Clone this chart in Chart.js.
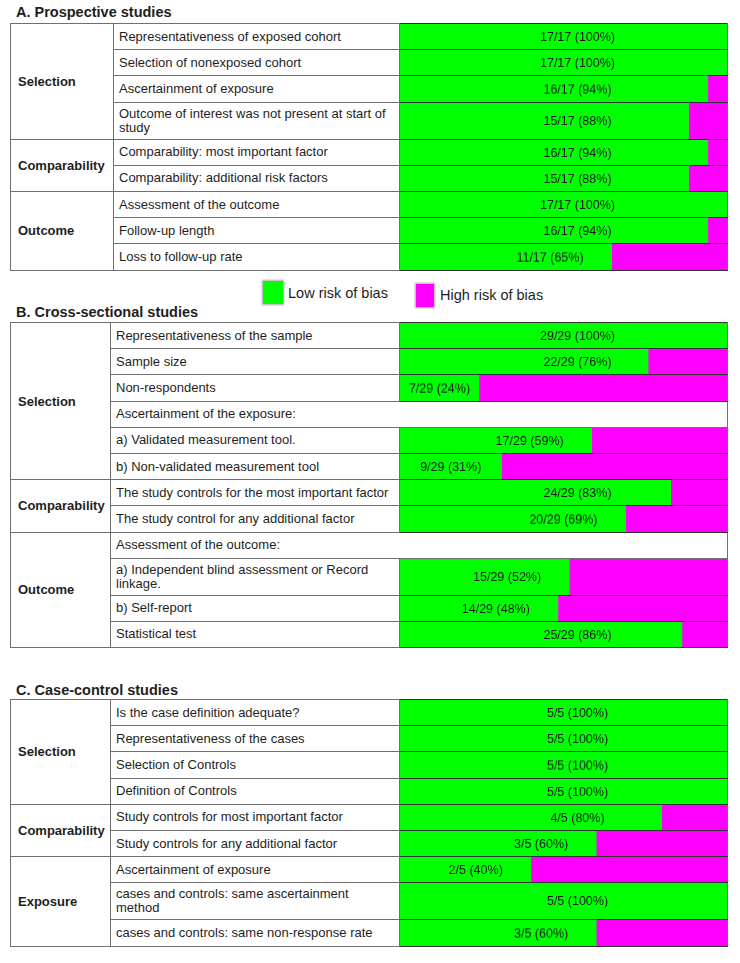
<!DOCTYPE html>
<html>
<head>
<meta charset="utf-8">
<script src="https://cdn.jsdelivr.net/npm/chart.js@4.4.0/dist/chart.umd.min.js"></script>
<style>
body { margin: 0; background: #fff; font-family: "Liberation Sans", Arial, sans-serif; color: #1e1e1e; }
.page { position: relative; width: 740px; height: 963px; overflow: hidden; }
.title { position: absolute; left: 16px; font-weight: bold; font-size: 14.5px; line-height: 16px; }
table { position: absolute; left: 10px; border-collapse: collapse; table-layout: fixed; }
td { border: 1px solid #707070; padding: 0; vertical-align: middle; }
tr { height: 26.2px; }
td.grp { font-weight: bold; font-size: 13px; padding-left: 7px; }
td.item { font-size: 13px; line-height: 14px; padding: 4px 5px 4px 5px; }
td.bar { position: relative; border-color: #333; border-right-color: #707070; }
td.bar div { position: absolute; left: 0; top: 0; right: 0; bottom: 0; }
.legend { position: absolute; font-size: 14.5px; line-height: 16px; }
.sw { position: absolute; box-shadow: 0 0 2px 1px rgba(0,0,0,0.35); }
</style>
</head>
<body>
<div class="page" id="page">
  <div class="title" style="top:4px">A. Prospective studies</div>
  <div class="title" style="top:304px">B. Cross-sectional studies</div>
  <div class="title" style="top:682px">C. Case-control studies</div>

  <div class="sw" style="left:263px;top:281px;width:20px;height:23px;background:#00ff00"></div>
  <div class="legend" style="left:288px;top:285px">Low risk of bias</div>
  <div class="sw" style="left:416px;top:284px;width:18px;height:23px;background:#ff00ff"></div>
  <div class="legend" style="left:440px;top:287px">High risk of bias</div>
</div>

<script>
var GREEN = '#00ff00';
var MAGENTA = '#ff00ff';

// A. Prospective studies
var groupsA = ['Selection', 'Comparability', 'Outcome'];
var groupRowsA = [4, 2, 3];
var itemsA = [
	'Representativeness of exposed cohort',
	'Selection of nonexposed cohort',
	'Ascertainment of exposure',
	'Outcome of interest was not present at start of study',
	'Comparability: most important factor',
	'Comparability: additional risk factors',
	'Assessment of the outcome',
	'Follow-up length',
	'Loss to follow-up rate'
];
var lowA = [17, 17, 16, 15, 16, 15, 17, 16, 11];
var totalA = 17;

// B. Cross-sectional studies (null = sub-heading row, no bar)
var groupsB = ['Selection', 'Comparability', 'Outcome'];
var groupRowsB = [6, 2, 4];
var itemsB = [
	'Representativeness of the sample',
	'Sample size',
	'Non-respondents',
	'Ascertainment of the exposure:',
	'a) Validated measurement tool.',
	'b) Non-validated measurement tool',
	'The study controls for the most important factor',
	'The study control for any additional factor',
	'Assessment of the outcome:',
	'a) Independent blind assessment or Record linkage.',
	'b) Self-report',
	'Statistical test'
];
var lowB = [29, 22, 7, null, 17, 9, 24, 20, null, 15, 14, 25];
var totalB = 29;

// C. Case-control studies
var groupsC = ['Selection', 'Comparability', 'Exposure'];
var groupRowsC = [4, 2, 3];
var itemsC = [
	'Is the case definition adequate?',
	'Representativeness of the cases',
	'Selection of Controls',
	'Definition of Controls',
	'Study controls for most important factor',
	'Study controls for any additional factor',
	'Ascertainment of exposure',
	'cases and controls: same ascertainment method',
	'cases and controls: same non-response rate'
];
var lowC = [5, 5, 5, 5, 4, 3, 2, 5, 3];
var totalC = 5;

// writes "n/N (p%)" on the green part of each bar
var barText = {
	id: 'barText',
	afterDatasetsDraw: function (chart) {
		var ctx = chart.ctx;
		var el = chart.getDatasetMeta(0).data[0];
		var xs = chart.scales.x;
		var low = chart.data.datasets[0].data[0];
		var total = xs.max;
		var txt = low + '/' + total + ' (' + Math.round(low / total * 100) + '%)';
		ctx.save();
		ctx.font = '12.5px "Liberation Sans", Arial, sans-serif';
		ctx.fillStyle = '#1a1a1a';
		ctx.textAlign = 'center';
		ctx.textBaseline = 'middle';
		var w = ctx.measureText(txt).width;
		var mid = (xs.left + xs.right) / 2 + 14;
		var greenMid = (xs.left + el.x) / 2;
		var x = Math.max(greenMid, Math.min(mid, el.x - w / 2 - 28));
		ctx.fillText(txt, x, el.y + 1);
		ctx.restore();
	}
};

function drawBar(holder, low, total) {
	var cv = document.createElement('canvas');
	holder.appendChild(cv);
	new Chart(cv, {
		type: 'bar',
		data: {
			labels: [''],
			datasets: [
				{ label: 'Low risk of bias', data: [low], backgroundColor: GREEN },
				{ label: 'High risk of bias', data: [total - low], backgroundColor: MAGENTA }
			]
		},
		options: {
			indexAxis: 'y',
			responsive: true,
			maintainAspectRatio: false,
			animation: false,
			layout: { padding: 0 },
			datasets: { bar: { barPercentage: 1, categoryPercentage: 1, borderWidth: 0 } },
			scales: {
				x: { stacked: true, min: 0, max: total, display: false },
				y: { stacked: true, display: false }
			},
			plugins: { legend: { display: false }, tooltip: { enabled: false } }
		},
		plugins: [barText]
	});
}

function buildSection(top, grpWidth, groups, groupRows, items, low, total) {
	var table = document.createElement('table');
	table.style.top = top + 'px';
	var cg = document.createElement('colgroup');
	[grpWidth, 399 - 10 - grpWidth, 328].forEach(function (w) {
		var c = document.createElement('col');
		c.style.width = w + 'px';
		cg.appendChild(c);
	});
	table.appendChild(cg);
	document.getElementById('page').appendChild(table);

	var holders = [];
	var r = 0;
	for (var g = 0; g < groups.length; g++) {
		for (var k = 0; k < groupRows[g]; k++) {
			var tr = document.createElement('tr');
			if (k === 0) {
				var gtd = document.createElement('td');
				gtd.className = 'grp';
				gtd.rowSpan = groupRows[g];
				gtd.textContent = groups[g];
				tr.appendChild(gtd);
			}
			var itd = document.createElement('td');
			itd.className = 'item';
			itd.textContent = items[r];
			tr.appendChild(itd);
			if (low[r] === null) {
				itd.colSpan = 2;
			} else {
				var btd = document.createElement('td');
				btd.className = 'bar';
				var holder = document.createElement('div');
				btd.appendChild(holder);
				tr.appendChild(btd);
				holders.push([holder, low[r]]);
			}
			table.appendChild(tr);
			r++;
		}
	}
	holders.forEach(function (h) { drawBar(h[0], h[1], total); });
}

buildSection(23, 103, groupsA, groupRowsA, itemsA, lowA, totalA);
buildSection(322, 100, groupsB, groupRowsB, itemsB, lowB, totalB);
buildSection(699, 100, groupsC, groupRowsC, itemsC, lowC, totalC);
</script>
</body>
</html>
